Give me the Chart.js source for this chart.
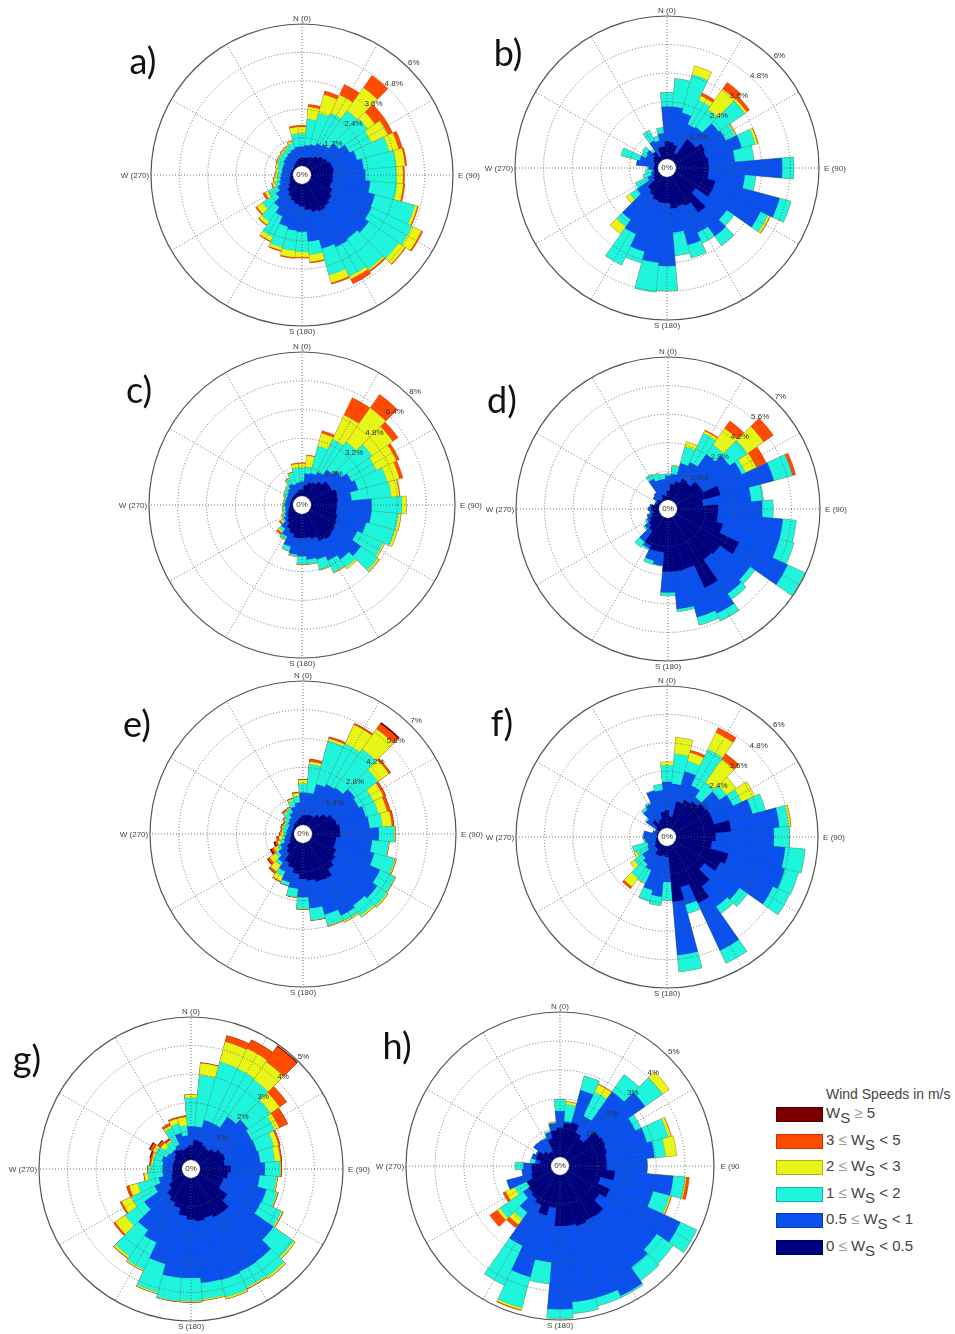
<!DOCTYPE html>
<html>
<head>
<meta charset="utf-8">
<title>Wind roses</title>
<script src="https://cdn.jsdelivr.net/npm/chart.js@4"></script>
<style>
  html, body { margin:0; padding:0; background:#fff; }
  #page { position:relative; width:955px; height:1334px; overflow:hidden; }
  canvas { position:absolute; filter:blur(0.4px); }
  .letter { position:absolute; font:36px Lato, sans-serif; color:#111; transform:translate(-50%,-50%); }
  .swatch { position:absolute; left:776px; width:47px; height:15px; box-sizing:border-box; border:1px solid rgba(0,0,0,.25); }
  .speed { position:absolute; left:826px; font:15px "Liberation Sans", sans-serif; color:#444; white-space:nowrap; transform:translateY(-50%); }
  .speed sub { font-size:15px; line-height:0; vertical-align:-5px; }
  .speed i { font-style:normal; color:#999; }
  #legendTitle { position:absolute; left:826px; top:1086px; font:14px "Liberation Sans", sans-serif; color:#444; white-space:nowrap; }
</style>
</head>
<body>
<div id="page"></div>
<script>
// direction bins, 10 degrees each, clockwise from north
const bins = ['0','10','20','30','40','50','60','70','80','90','100','110','120','130','140','150','160','170','180','190','200','210','220','230','240','250','260','270','280','290','300','310','320','330','340','350'];

// every series is the cumulative frequency (%) out to the top of that speed class
const aTicks = [1.2,2.4,3.6,4.8,6];
const aNavy = [.35,.35,.39,.47,.58,.72,.82,.92,.96,.93,.92,.89,1.03,1.14,1.24,1.31,1.24,1.10,.96,.86,.75,.63,.49,.32,.21,.15,.13,.10,.10,.08,.08,.08,.11,.18,.25,.32];
const aBlue = [.82,.89,.96,1.10,1.20,1.52,1.83,2.02,2.23,2.30,2.51,2.81,2.86,3.06,2.92,2.98,2.84,2.44,2.02,1.98,1.88,1.55,1.28,.96,.75,.61,.54,.49,.47,.49,.49,.58,.61,.68,.75,.82];
const aCyan = [1.38,1.99,2.33,2.51,2.93,3.00,2.86,3.43,3.61,3.61,3.64,4.55,4.75,4.61,4.48,4.34,3.99,3.00,2.86,2.83,2.79,2.51,2.02,1.66,1.20,.82,.69,.66,.63,.69,.78,.82,.86,.89,1.03,1.38];
const aYellow = [1.66,2.51,3.14,3.36,4.13,3.38,3.64,3.85,3.99,3.89,3.92,4.67,5.19,4.94,4.55,4.48,4.34,3.31,3.10,3.12,2.93,2.71,2.19,1.95,1.35,.92,.82,.75,.72,.78,.82,.86,.92,.96,1.10,1.66];
const aOrange = [1.73,2.62,3.31,3.85,4.77,3.85,3.85,4.02,4.07,3.96,3.99,4.72,5.26,4.98,4.62,4.70,4.41,3.36,3.14,3.17,2.98,2.75,2.24,2.02,1.45,.97,.86,.78,.75,.80,.86,.89,.96,1.00,1.14,1.73];

const bTicks = [1.2,2.4,3.6,4.8,6];
const bNavy = [.74,.71,.63,.32,1.09,1.09,1.37,1.30,1.37,1.37,1.37,1.72,1.72,1.09,1.90,1.37,1.27,1.33,1.09,1.09,1.02,.88,.74,.32,.25,.18,.15,.18,.15,.18,.25,.32,.46,.18,.53,.53];
const bBlue = [2.20,2.20,2.02,1.65,1.72,2.27,2.34,2.86,2.48,4.46,2.90,4.51,3.95,2.69,3.11,2.62,2.97,2.34,3.74,3.60,3.25,2.69,2.27,1.16,.53,.32,.25,.39,.91,.81,.60,.67,.46,.88,.81,1.09];
const bCyan = [2.80,3.39,3.68,2.76,2.62,3.60,2.78,3.46,3.28,4.95,3.36,5.01,4.30,3.06,3.60,3.11,3.53,3.32,4.78,4.85,3.74,4.12,2.62,1.51,1.09,.67,.53,.46,.91,1.62,.81,.88,.60,1.37,1.02,1.33];
const bYellow = [2.80,3.39,4.06,2.97,3.67,3.71,2.83,3.56,3.28,4.95,3.36,5.01,4.39,3.06,3.60,3.11,3.53,3.32,4.78,4.85,3.74,4.12,3.00,1.72,1.09,.67,.53,.46,.91,1.62,.81,.88,.60,1.37,1.02,1.33];
const bOrange = [2.80,3.39,4.06,3.11,4.02,3.86,2.86,3.59,3.28,4.95,3.36,5.01,4.42,3.06,3.60,3.11,3.53,3.32,4.78,4.85,3.74,4.12,3.00,1.72,1.09,.67,.53,.46,.91,1.62,.81,.88,.60,1.37,1.02,1.33];

const cTicks = [1.6,3.2,4.8,6.4,8];
const cNavy = [.37,.61,.79,.88,1.07,1.34,1.34,1.53,1.49,1.43,1.43,1.53,1.62,1.71,1.80,1.71,1.43,1.34,1.34,1.34,1.16,.97,.70,.51,.39,.28,.20,.17,.17,.17,.17,.17,.17,.20,.24,.33];
const cBlue = [.79,1.25,1.34,1.53,1.89,2.17,2.54,2.72,2.26,3.37,3.37,3.18,2.90,3.49,3.18,2.90,2.63,2.54,2.35,2.26,1.89,1.43,1.12,.75,.57,.46,.42,.46,.42,.42,.42,.51,.61,.79,.70,.75];
const cCyan = [1.56,1.62,2.90,3.53,3.77,4.25,4.06,4.40,4.47,5.06,4.87,4.84,4.47,4.63,3.73,3.62,3.22,2.78,2.78,2.35,2.13,1.62,1.31,.88,.70,.61,.57,.53,.51,.51,.61,.70,.79,1.07,1.34,1.56];
const cYellow = [1.80,2.26,3.64,5.02,6.09,5.66,5.30,5.11,4.93,5.31,5.02,4.98,4.56,4.73,3.83,3.66,3.25,2.81,2.81,2.37,2.15,1.66,1.40,.97,.75,.64,.61,.57,.55,.53,.64,.74,.83,1.12,1.38,1.80];
const cOrange = [1.86,2.30,3.79,6.09,7.01,6.03,5.48,5.31,4.98,5.31,5.04,5.00,4.58,4.76,3.84,3.68,3.27,2.83,2.83,2.39,2.17,1.67,1.53,1.07,.79,.66,.63,.59,.57,.55,.66,.75,.85,1.16,1.42,1.86];

const dTicks = [1.4,2.8,4.2,5.6,7];
const dNavy = [.46,.79,.95,1.19,1.11,1.44,1.46,2.21,1.28,2.01,2.01,2.34,3.40,2.67,2.58,3.81,2.60,2.62,2.62,1.69,1.69,1.52,.87,.70,.54,.38,.29,.38,.38,.21,.13,.21,.05,.13,.29,.21];
const dBlue = [1.19,1.28,1.88,2.09,2.83,3.24,3.55,4.92,3.65,4.17,5.20,5.20,6.02,4.47,4.63,5.20,5.04,4.47,3.65,2.34,2.18,1.69,1.52,.95,.70,.62,.46,.54,.46,.25,.25,.46,.54,1.19,1.03,1.03];
const dCyan = [1.28,1.69,2.72,3.65,3.40,4.30,3.75,5.86,4.25,4.71,5.86,5.94,6.95,4.76,4.97,5.61,5.45,4.60,3.81,2.37,2.37,1.77,1.85,1.03,.79,.62,.46,.54,.46,.25,.25,.46,.54,1.44,1.36,1.28];
const dYellow = [1.28,1.72,2.98,3.78,4.38,5.28,4.34,5.86,4.25,4.71,5.86,5.94,6.95,4.76,4.97,5.61,5.45,4.60,3.81,2.37,2.37,1.77,1.85,1.03,.79,.62,.46,.54,.46,.25,.25,.46,.54,1.44,1.36,1.28];
const dOrange = [1.28,1.72,2.98,3.84,4.83,5.86,4.88,6.04,4.25,4.71,5.86,5.94,6.95,4.76,4.97,5.61,5.45,4.60,3.81,2.37,2.37,1.77,1.85,1.03,.79,.62,.46,.54,.46,.25,.25,.46,.54,1.44,1.36,1.28];

const eTicks = [1.4,2.8,4.2,5.6,7];
const eNavy = [.49,.49,.53,.53,.70,.94,1.18,1.26,1.37,1.37,1.18,1.18,1.34,1.47,1.67,1.99,1.96,1.83,1.75,1.50,1.26,1.10,.70,.53,.29,.21,.13,.13,.10,.10,.10,.13,.21,.21,.29,.37];
const eBlue = [1.58,1.58,2.07,2.23,2.31,2.64,2.56,2.72,2.80,3.25,2.93,3.15,3.69,3.96,3.80,3.93,3.61,3.19,2.64,2.23,1.99,1.58,1.26,1.02,.78,.53,.45,.37,.37,.34,.34,.45,.53,.70,.94,1.10];
const eCyan = [2.02,2.96,4.25,4.41,4.59,4.01,3.33,3.36,3.44,4.01,3.74,4.17,4.50,4.54,4.41,4.22,4.16,3.77,3.20,2.64,2.17,1.83,1.42,1.18,.94,.73,.57,.50,.53,.57,.53,.70,.86,.94,1.26,1.42];
const eYellow = [2.20,3.09,4.37,5.42,5.79,4.66,3.88,3.80,3.90,4.06,3.77,4.25,4.53,4.61,4.50,4.29,4.20,3.78,3.22,2.65,2.18,2.10,1.80,1.54,1.13,.86,.74,.66,.60,.63,.60,.73,.92,.99,1.34,1.57];
const eOrange = [2.23,3.22,4.46,5.50,6.11,4.77,4.01,3.96,4.01,4.07,3.78,4.27,4.54,4.62,4.51,4.30,4.22,3.80,3.23,2.67,2.20,2.15,1.92,1.67,1.26,.97,.86,.73,.66,.70,.66,.78,1.02,1.02,1.37,1.62];
const eMaroon = [2.23,3.22,4.46,5.50,6.19,4.77,4.01,3.96,4.01,4.07,3.78,4.27,4.54,4.62,4.51,4.30,4.22,3.80,3.23,2.67,2.20,2.15,1.92,1.70,1.34,1.05,.86,.73,.66,.70,.66,.78,1.02,1.02,1.37,1.62];

const fTicks = [1.2,2.4,3.6,4.8,6];
const fNavy = [.75,.49,1.17,1.34,1.45,1.60,1.67,1.67,2.33,1.67,1.52,2.30,2.10,1.55,2.16,2.70,1.81,2.37,.47,.40,.47,.47,.25,.25,.18,.11,.08,.04,.04,.08,.04,.18,.47,.32,.40,.68];
const fBlue = [1.95,1.88,2.49,2.02,1.68,2.33,2.70,3.36,4.38,4.14,4.63,4.77,4.56,3.36,3.22,4.91,2.58,4.63,1.52,2.15,1.95,1.17,1.03,.89,.54,.47,.54,.61,.61,.25,.18,.68,1.03,1.17,1.64,1.60];
const fCyan = [2.65,3.15,2.94,3.71,2.44,2.70,3.11,3.93,4.77,4.80,5.48,5.37,5.34,3.78,3.56,5.51,2.97,5.34,2.30,2.53,2.44,1.78,1.74,1.31,1.03,1.13,.61,.64,.61,.25,.18,.75,1.14,1.24,1.67,1.86];
const fYellow = [2.80,3.85,3.32,4.49,3.64,3.19,3.71,3.93,4.87,4.80,5.48,5.37,5.34,3.78,3.56,5.51,2.97,5.34,2.30,2.53,2.44,1.81,2.19,1.51,1.16,1.13,.61,.64,.61,.25,.18,.75,1.14,1.24,1.67,1.86];
const fOrange = [2.80,3.85,3.43,4.73,3.93,3.19,3.71,3.93,4.89,4.80,5.48,5.37,5.34,3.78,3.56,5.51,2.97,5.34,2.30,2.53,2.44,1.81,2.30,1.51,1.16,1.13,.61,.64,.61,.25,.18,.75,1.14,1.24,1.67,1.86];

const gTicks = [1,2,3,4,5];
const gNavy = [.51,.71,.68,.60,.56,.68,.86,.92,.86,1.07,.98,.86,.86,1.23,1.54,1.54,1.45,1.51,1.45,1.33,1.09,.98,.86,.62,.45,.39,.33,.33,.33,.33,.33,.39,.51,.45,.39,.45];
const gBlue = [1.18,1.18,1.45,1.45,1.91,2.12,2.03,2.06,2.11,2.27,2.09,2.41,2.39,3.20,3.63,3.65,3.70,3.68,3.50,3.50,3.12,2.52,2.29,1.68,1.09,.86,.68,.68,.68,.74,.62,.56,.56,.62,.98,.86];
const gCyan = [2.18,2.98,3.56,3.55,3.50,3.09,2.92,2.68,2.62,2.80,2.68,2.80,3.18,4.06,4.29,4.25,4.33,4.25,4.30,4.32,4.15,3.57,3.42,2.50,1.98,1.62,1.21,1.15,1.03,1.03,1.03,.80,.86,1.27,1.33,1.21];
const gYellow = [2.29,3.40,4.29,4.33,4.26,3.47,3.09,2.86,2.83,2.83,2.72,2.83,3.23,4.13,4.36,4.30,4.39,4.29,4.34,4.34,4.20,3.62,3.50,2.92,2.36,1.92,1.33,1.19,1.09,1.09,1.15,.98,.92,1.36,1.51,1.51];
const gOrange = [2.29,3.42,4.52,4.67,4.92,3.77,3.42,2.92,2.88,2.86,2.73,2.85,3.25,4.14,4.37,4.32,4.40,4.30,4.35,4.35,4.21,3.63,3.52,2.98,2.42,2.02,1.35,1.21,1.13,1.15,1.27,1.09,.98,1.45,1.56,1.56];
const gMaroon = [2.29,3.42,4.52,4.67,4.96,3.77,3.42,2.92,2.88,2.86,2.73,2.85,3.25,4.14,4.37,4.32,4.40,4.30,4.35,4.35,4.21,3.63,3.52,2.98,2.42,2.02,1.35,1.21,1.15,1.19,1.31,1.12,1.00,1.45,1.56,1.56];

const hTicks = [1,2,3,4,5];
const hNavy = [1.01,1.18,1.24,.95,.84,1.36,1.41,1.36,1.30,1.30,1.59,1.13,1.59,1.36,1.79,1.76,1.83,1.76,1.76,1.13,1.45,1.18,1.07,1.01,.95,.72,.67,.67,.38,.55,.55,.38,.26,.26,.67,.92];
const hBlue = [1.59,1.24,2.40,1.59,2.82,3.27,2.56,2.79,2.96,2.70,3.61,3.01,4.27,3.77,3.96,4.63,4.40,4.40,4.63,3.02,3.65,2.73,1.64,1.24,.95,1.59,1.01,.95,.55,.70,.61,.80,.78,.75,.90,1.18];
const hCyan = [1.99,1.82,2.91,2.50,3.54,4.00,2.78,3.55,3.34,2.70,4.02,3.60,4.89,4.46,4.52,4.69,4.69,4.80,4.95,3.77,4.76,4.23,1.93,2.22,1.41,1.59,1.01,1.24,.72,.70,.61,.80,.78,.78,.95,1.18];
const hYellow = [1.99,1.91,2.91,2.79,3.54,4.29,2.78,3.65,3.73,2.70,4.06,3.65,4.89,4.46,4.52,4.69,4.69,4.80,4.95,3.77,4.83,4.23,2.16,2.33,1.76,1.59,1.01,1.24,.72,.70,.61,.80,.78,.78,.95,1.22];
const hOrange = [1.99,1.93,2.91,2.82,3.54,4.29,2.78,3.67,3.73,2.70,4.17,3.68,4.89,4.46,4.52,4.69,4.69,4.80,4.95,3.77,4.86,4.23,2.31,2.65,1.87,1.59,1.01,1.24,.72,.70,.61,.80,.78,.78,.95,1.23];

const speedClasses = ['0 ≤ Ws < 0.5','0.5 ≤ Ws < 1','1 ≤ Ws < 2','2 ≤ Ws < 3','3 ≤ Ws < 5','Ws ≥ 5'];
const speedColors = ['#00007f','#0a50ee','#1ef5dc','#e8f518','#ff4a00','#7a0000'];

// page layout of each panel
const roses = [
  {name:'a)', cx:302, cy:175,  R:151, lx:143, ly:60,   ticks:aTicks, series:[aNavy,aBlue,aCyan,aYellow,aOrange]},
  {name:'b)', cx:667, cy:168,  R:152, lx:508, ly:52,   ticks:bTicks, series:[bNavy,bBlue,bCyan,bYellow,bOrange]},
  {name:'c)', cx:302, cy:505,  R:153, lx:139, ly:389,  ticks:cTicks, series:[cNavy,cBlue,cCyan,cYellow,cOrange]},
  {name:'d)', cx:668, cy:509,  R:152, lx:502, ly:399,  ticks:dTicks, series:[dNavy,dBlue,dCyan,dYellow,dOrange]},
  {name:'e)', cx:303, cy:834,  R:153, lx:137, ly:723,  ticks:eTicks, series:[eNavy,eBlue,eCyan,eYellow,eOrange,eMaroon]},
  {name:'f)', cx:667, cy:837,  R:151, lx:502, ly:722,  ticks:fTicks, series:[fNavy,fBlue,fCyan,fYellow,fOrange]},
  {name:'g)', cx:191, cy:1169, R:152, lx:27,  ly:1058, ticks:gTicks, series:[gNavy,gBlue,gCyan,gYellow,gOrange,gMaroon]},
  {name:'h)', cx:560, cy:1166, R:154, lx:397, ly:1045, ticks:hTicks, series:[hNavy,hBlue,hCyan,hYellow,hOrange], east:'E (90'}
];

const HOLE = 9, PAD = 40;
const page = document.getElementById('page');

// spokes, compass text, centre hole and % labels on top of the bars
const roseOverlay = {
  id:'roseOverlay',
  afterDraw(chart, args, opts) {
    const ctx = chart.ctx, r = chart.scales.r;
    const x = r.xCenter, y = r.yCenter, R = r.drawingArea;
    ctx.save();
    ctx.strokeStyle = '#555';
    ctx.lineWidth = 0.8;
    ctx.setLineDash([1,2]);
    for (let deg = 0; deg < 360; deg += 30) {
      const a = deg * Math.PI / 180;
      ctx.beginPath();
      ctx.moveTo(x + HOLE*Math.sin(a), y - HOLE*Math.cos(a));
      ctx.lineTo(x + R*Math.sin(a), y - R*Math.cos(a));
      ctx.stroke();
    }
    ctx.setLineDash([]);
    ctx.beginPath();
    ctx.arc(x, y, HOLE, 0, 2*Math.PI);
    ctx.fillStyle = '#fff';
    ctx.fill();

    ctx.fillStyle = '#333';
    ctx.textAlign = 'center';
    ctx.textBaseline = 'middle';
    ctx.font = '8px "Liberation Sans", sans-serif';
    ctx.fillText('0%', x, y);
    const a45 = 45 * Math.PI / 180;
    opts.ticks.forEach(v => {
      const d = r.getDistanceFromCenterForValue(v) + 7;
      ctx.fillText(v + '%', x + d*Math.sin(a45), y - d*Math.cos(a45));
    });
    ctx.fillStyle = '#444';
    ctx.fillText('N (0)', x, y - R - 5);
    ctx.fillText('S (180)', x, y + R + 6);
    ctx.fillText(opts.east || 'E (90)', x + R + 16, y + 1);
    ctx.fillText('W (270)', x - R - 16, y + 1);
    ctx.restore();
  }
};

roses.forEach(rose => {
  const size = 2*rose.R + 2*PAD;
  const canvas = document.createElement('canvas');
  canvas.width = size;
  canvas.height = size;
  canvas.style.left = (rose.cx - rose.R - PAD) + 'px';
  canvas.style.top = (rose.cy - rose.R - PAD) + 'px';
  page.appendChild(canvas);

  const top = rose.ticks[rose.ticks.length-1];
  new Chart(canvas, {
    type:'polarArea',
    data:{
      labels:bins,
      // first dataset is painted last, so the slowest class ends up on top
      datasets:rose.series.map((values, i) => ({
        label:speedClasses[i],
        data:values,
        backgroundColor:speedColors[i],
        borderColor:'rgba(0,0,50,.25)',
        borderWidth:0.4
      }))
    },
    options:{
      responsive:false,
      animation:false,
      layout:{padding:PAD},
      scales:{r:{
        startAngle:-5,
        min:-top*HOLE/(rose.R-HOLE),
        max:top,
        afterBuildTicks:scale => { scale.ticks = [0, ...rose.ticks].map(v => ({value:v})); },
        ticks:{display:false},
        pointLabels:{display:false},
        angleLines:{display:false},
        grid:{
          z:1,
          circular:true,
          color:c => c.index === rose.ticks.length ? '#555' : '#555',
          lineWidth:c => c.index === rose.ticks.length ? 1.2 : 0.8
        },
        border:{dash:c => c.index === rose.ticks.length ? [] : [1,2]}
      }},
      plugins:{
        legend:{display:false},
        tooltip:{enabled:false},
        roseOverlay:{ticks:rose.ticks, east:rose.east}
      }
    },
    plugins:[roseOverlay]
  });

  const letter = document.createElement('div');
  letter.className = 'letter';
  letter.textContent = rose.name;
  letter.style.left = rose.lx + 'px';
  letter.style.top = rose.ly + 'px';
  page.appendChild(letter);
});

// legend, fastest class first
const title = document.createElement('div');
title.id = 'legendTitle';
title.textContent = 'Wind Speeds in m/s';
page.appendChild(title);
const legendTops = [1115,1142,1168,1195,1221,1248];
[...speedClasses].reverse().forEach((label, i) => {
  const sw = document.createElement('div');
  sw.className = 'swatch';
  sw.style.top = (legendTops[i]-8) + 'px';
  sw.style.background = speedColors[speedColors.length-1-i];
  page.appendChild(sw);
  const txt = document.createElement('div');
  txt.className = 'speed';
  txt.style.top = (legendTops[i]-3) + 'px';
  txt.innerHTML = label.replace('Ws','W<sub>S</sub>').replace('≤','<i>≤</i>').replace('≥','<i>≥</i>');
  page.appendChild(txt);
});
</script>
</body>
</html>
